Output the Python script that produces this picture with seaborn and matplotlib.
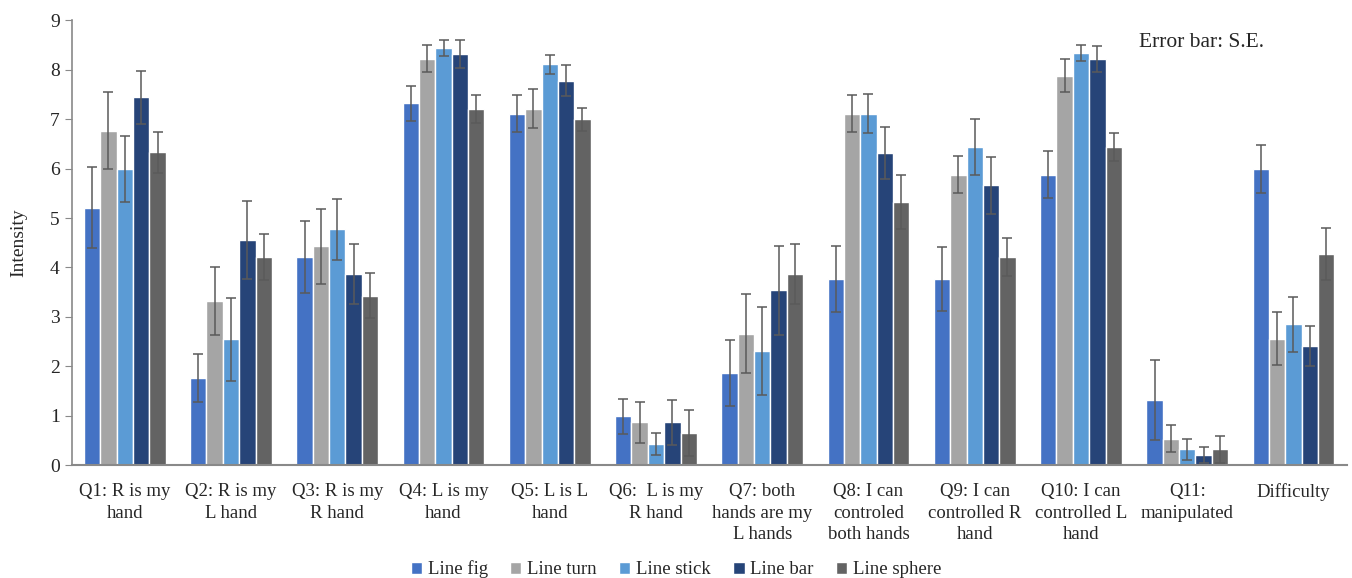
import numpy as np
import pandas as pd
import matplotlib
matplotlib.use("Agg")
import matplotlib.pyplot as plt
import seaborn as sns

questions = ["Q1: R is my\nhand", "Q2: R is my\nL hand", "Q3: R is my\nR hand",
             "Q4: L is my\nhand", "Q5: L is L\nhand", "Q6:  L is my\nR hand",
             "Q7: both\nhands are my\nL hands", "Q8: I can\ncontroled\nboth hands",
             "Q9: I can\ncontrolled R\nhand", "Q10: I can\ncontrolled L\nhand",
             "Q11:\nmanipulated", "Difficulty"]
series = ["Line fig", "Line turn", "Line stick", "Line bar", "Line sphere"]

line_fig = [5.21, 1.77, 4.21, 7.32, 7.11, 0.99, 1.87, 3.77, 3.77, 5.88, 1.32, 5.99]
line_turn = [6.77, 3.32, 4.43, 8.22, 7.21, 0.87, 2.66, 7.11, 5.88, 7.88, 0.54, 2.56]
line_stick = [5.99, 2.55, 4.77, 8.44, 8.11, 0.43, 2.32, 7.11, 6.44, 8.33, 0.32, 2.85]
line_bar = [7.44, 4.55, 3.87, 8.32, 7.78, 0.87, 3.54, 6.32, 5.66, 8.22, 0.20, 2.41]
line_sphere = [6.33, 4.21, 3.43, 7.21, 7.00, 0.65, 3.87, 5.33, 4.21, 6.44, 0.32, 4.27]

se_fig = [0.82, 0.49, 0.73, 0.36, 0.37, 0.36, 0.67, 0.67, 0.64, 0.48, 0.81, 0.49]
se_turn = [0.77, 0.69, 0.76, 0.27, 0.39, 0.41, 0.80, 0.37, 0.37, 0.33, 0.28, 0.54]
se_stick = [0.66, 0.84, 0.61, 0.17, 0.19, 0.23, 0.89, 0.40, 0.57, 0.16, 0.22, 0.56]
se_bar = [0.53, 0.79, 0.61, 0.28, 0.31, 0.45, 0.90, 0.53, 0.57, 0.26, 0.16, 0.41]
se_sphere = [0.41, 0.46, 0.46, 0.28, 0.23, 0.47, 0.61, 0.55, 0.39, 0.28, 0.27, 0.52]

colors = ["#4472C4", "#A5A5A5", "#5B9BD5", "#264478", "#636363"]

means = [line_fig, line_turn, line_stick, line_bar, line_sphere]
errs = [se_fig, se_turn, se_stick, se_bar, se_sphere]

rows = []
for s, m in zip(series, means):
    for q, v in zip(questions, m):
        rows.append({"question": q, "series": s, "value": v})
df = pd.DataFrame(rows)

sns.set_style("white")
plt.rcParams["font.family"] = ["Liberation Serif", "DejaVu Serif"]

fig = plt.figure(figsize=(13.52, 5.78), dpi=100)
ax = fig.add_axes([0.053, 0.195, 0.943, 0.77])

sns.barplot(data=df, x="question", y="value", hue="series", order=questions,
            hue_order=series, palette=colors, width=0.77, errorbar=None,
            edgecolor="white", linewidth=1.0, saturation=1, ax=ax)

# S.E. error bars on each bar
for cont, e in zip(ax.containers, errs):
    xs = [p.get_x() + p.get_width() / 2 for p in cont.patches]
    hs = [p.get_height() for p in cont.patches]
    ax.errorbar(xs, hs, yerr=e, fmt="none", ecolor="#5a5a5a", elinewidth=1.1,
                capsize=3.5, capthick=1.1, zorder=5)

ax.set_ylim(0, 9)
ax.set_yticks(range(10))
ax.set_xlim(-0.5, len(questions) - 0.5)
ax.set_xlabel("")
ax.set_ylabel("Intensity", fontsize=14, labelpad=16)
ax.tick_params(axis="y", labelsize=14, length=5, color="#898989", direction="out", left=True)
ax.tick_params(axis="x", labelsize=13.5, length=0, pad=13)
for lab in ax.get_xticklabels():
    lab.set_linespacing(1.35)
for sp in ["top", "right"]:
    ax.spines[sp].set_visible(False)
ax.spines["left"].set_color("#898989")
ax.spines["bottom"].set_color("#898989")
ax.spines["left"].set_linewidth(1.2)
ax.spines["bottom"].set_linewidth(1.5)

ax.text(0.837, 0.95, "Error bar: S.E.", transform=ax.transAxes, fontsize=15.5,
        ha="left", va="center")

handles, labels = ax.get_legend_handles_labels()
ax.legend_.remove()
fig.legend(handles, labels, loc="lower center", bbox_to_anchor=(0.5, -0.03), ncol=5,
           frameon=False, fontsize=13.5, handlelength=0.6, handleheight=0.6,
           handletextpad=0.3, columnspacing=1.2)

fig.savefig("out.png", dpi=100)
